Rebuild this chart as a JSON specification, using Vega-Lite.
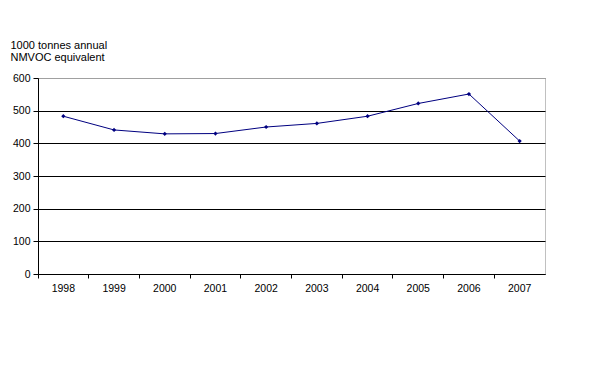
{
  "$schema": "https://vega.github.io/schema/vega-lite/v6.json",
  "width": 507,
  "height": 196,
  "autosize": "none",
  "padding": {"left": 38, "top": 78, "right": 69, "bottom": 110},
  "background": "white",
  "config": {
    "font": "Liberation Sans",
    "view": {"stroke": "#808080", "strokeDash": [1, 1], "strokeWidth": 1},
    "axis": {"labelFont": "Liberation Sans", "labelFontSize": 10.5, "labelColor": "black", "domainColor": "black", "tickColor": "black"}
  },
  "data": {
    "values": [
      {"year": "1998", "value": 483},
      {"year": "1999", "value": 441},
      {"year": "2000", "value": 429},
      {"year": "2001", "value": 430},
      {"year": "2002", "value": 450},
      {"year": "2003", "value": 461},
      {"year": "2004", "value": 483},
      {"year": "2005", "value": 522},
      {"year": "2006", "value": 551},
      {"year": "2007", "value": 407}
    ]
  },
  "encoding": {
    "x": {
      "field": "year", "type": "ordinal",
      "scale": {"type": "band", "paddingInner": 0, "paddingOuter": 0},
      "axis": {"title": null, "labelAngle": 0, "bandPosition": 0, "tickSize": 4, "labelPadding": 5, "grid": false, "domainWidth": 1}
    },
    "y": {
      "field": "value", "type": "quantitative",
      "scale": {"domain": [0, 600], "nice": false},
      "axis": {
        "values": [0, 100, 200, 300, 400, 500, 600],
        "tickSize": 5, "labelPadding": 3,
        "grid": true,
        "gridColor": {"condition": {"test": "datum.value === 600", "value": "#808080"}, "value": "black"},
        "gridDash": {"condition": {"test": "datum.value === 600", "value": [1, 1]}, "value": []},
        "gridOpacity": 1,
        "title": ["1000 tonnes annual", "NMVOC equivalent"],
        "titleAngle": 0,
        "titleAlign": "left",
        "titleBaseline": "alphabetic",
        "titleX": -28,
        "titleY": -30,
        "titleFontWeight": "normal",
        "titleFontSize": 11,
        "titleLineHeight": 12,
        "titleColor": "black"
      }
    }
  },
  "layer": [
    {"mark": {"type": "line", "color": "#000080", "strokeWidth": 1}},
    {"mark": {"type": "point", "shape": "diamond", "filled": true, "color": "#000080", "size": 18, "opacity": 1}}
  ]
}
